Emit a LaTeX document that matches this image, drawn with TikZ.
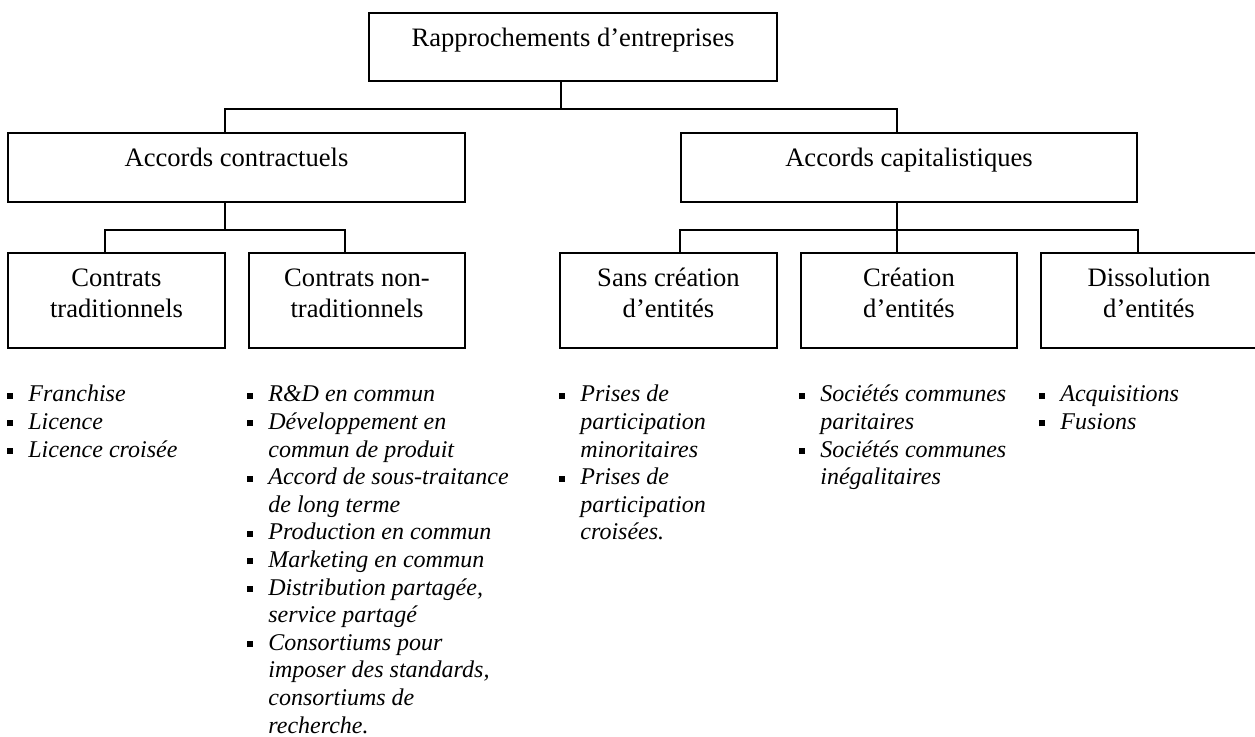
\documentclass[tikz,border=0pt]{standalone}
\usepackage{fontspec}
\setmainfont{Liberation Serif}
\usepackage{tikz}

\newcommand{\puce}{\rule[1.6pt]{3pt}{3pt}}
\newcommand{\lignes}[1]{\begin{tabular}[t]{@{}c@{}}#1\end{tabular}}
\newcommand{\points}[1]{\begin{tabular}[t]{@{}l@{\hspace{7.5pt}}l@{}}#1\end{tabular}}

\begin{document}
\begin{tikzpicture}[x=0.5pt,y=-0.5pt,
  cadre/.style={draw,line width=1pt,inner sep=0pt,minimum width=108pt,minimum height=47.5pt},
  titre/.style={anchor=base,inner sep=0pt,font=\fontsize{13.3}{15.5}\selectfont},
  liste/.style={anchor=base west,inner sep=0pt,font=\fontsize{12}{13.8}\selectfont\itshape},
  lien/.style={line width=0.85pt}]

\useasboundingbox (0,0) rectangle (1255,737);

% boxes
\node[cadre,minimum width=204pt,minimum height=34pt] (top) at (573,47) {};
\node[cadre,minimum width=228.5pt,minimum height=34.5pt] (acc) at (236.5,167.5) {};
\node[cadre,minimum width=228pt,minimum height=34.5pt] (cap) at (909,167.5) {};
\node[cadre,minimum width=108.5pt] (trad) at (116.5,300.5) {};
\node[cadre] (nontrad) at (357,300.5) {};
\node[cadre,minimum width=108.5pt] (sans) at (668.5,300.5) {};
\node[cadre] (crea) at (909,300.5) {};
\node[cadre,minimum width=110pt] (diss) at (1151,300.5) {};

% box texts
\node[titre] (toptxt) at ([yshift=-17.5pt]top.north) {Rapprochements d’entreprises};
\node[titre] (acctxt) at ([yshift=-17.5pt]acc.north) {Accords contractuels};
\node[titre] (captxt) at ([yshift=-17.5pt]cap.north) {Accords capitalistiques};
\node[titre] (tradtxt) at ([yshift=-17.5pt]trad.north) {\lignes{Contrats\\traditionnels}};
\node[titre] (nontradtxt) at ([yshift=-17.5pt]nontrad.north) {\lignes{Contrats non-\\traditionnels}};
\node[titre] (sanstxt) at ([yshift=-17.5pt]sans.north) {\lignes{Sans création\\d’entités}};
\node[titre] (creatxt) at ([yshift=-17.5pt]crea.north) {\lignes{Création\\d’entités}};
\node[titre] (disstxt) at ([xshift=-1pt,yshift=-17.5pt]diss.north) {\lignes{Dissolution\\d’entités}};

% connectors
\draw[lien] ([xshift=-6pt]top.south) -- ++(0,27) coordinate (j1);
\draw[lien] ([xshift=-5.75pt]acc.north) |- (j1) -| ([xshift=-6pt]cap.north);
\draw[lien] ([xshift=-5.75pt]acc.south) -- ++(0,27) coordinate (j2);
\draw[lien] ([xshift=-5.75pt]trad.north) |- (j2) -| ([xshift=-6pt]nontrad.north);
\draw[lien] ([xshift=-6pt]cap.south) -- ([xshift=-6pt]crea.north);
\draw[lien] (cap.west |- sans.north) |- ([xshift=-6pt,yshift=-13.5pt]cap.south) -| (cap.east |- diss.north);

% lists
\node[liste] (l1) at (7,402) {\points{%
  \puce & Franchise\\
  \puce & Licence\\
  \puce & Licence croisée}};
\node[liste] (l2) at (247,402) {\points{%
  \puce & R\&D en commun\\
  \puce & Développement en\\
        & commun de produit\\
  \puce & Accord de sous-traitance\\
        & de long terme\\
  \puce & Production en commun\\
  \puce & Marketing en commun\\
  \puce & Distribution partagée,\\
        & service partagé\\
  \puce & Consortiums pour\\
        & imposer des standards,\\
        & consortiums de\\
        & recherche.}};
\node[liste] (l3) at (559,402) {\points{%
  \puce & Prises de\\
        & participation\\
        & minoritaires\\
  \puce & Prises de\\
        & participation\\
        & croisées.}};
\node[liste] (l4) at (799,402) {\points{%
  \puce & Sociétés communes\\
        & paritaires\\
  \puce & Sociétés communes\\
        & inégalitaires}};
\node[liste] (l5) at (1039,402) {\points{%
  \puce & Acquisitions\\
  \puce & Fusions}};
\end{tikzpicture}
\end{document}
